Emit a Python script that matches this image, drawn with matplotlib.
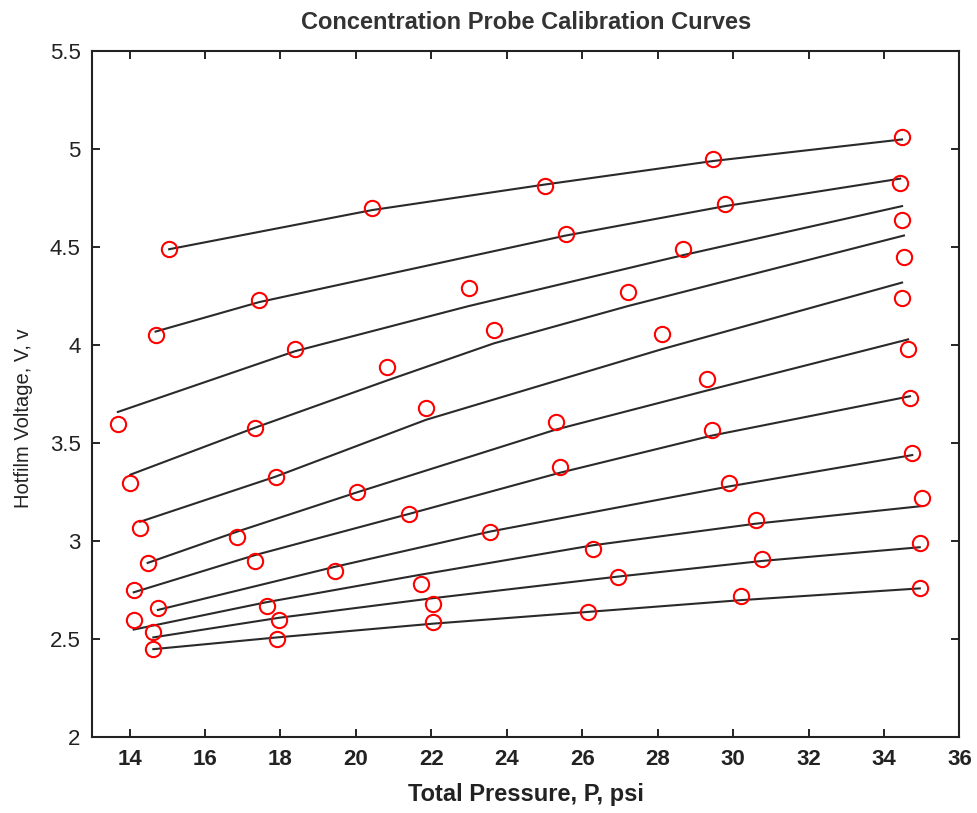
import matplotlib
matplotlib.use('Agg')
import matplotlib.pyplot as plt

#%% data: pressure (psi), measured voltage (circles), fitted voltage (lines)
p_curves = [
    [15.05, 20.44, 25.01, 29.47, 34.48],
    [14.69, 17.43, 25.57, 29.79, 34.43],
    [13.69, 18.39, 22.99, 28.68, 34.48],
    [14.02, 17.33, 20.82, 23.66, 27.21, 34.53],
    [14.28, 17.87, 21.86, 28.11, 34.48],
    [14.48, 16.86, 20.03, 25.30, 29.32, 34.64],
    [14.11, 17.33, 21.41, 25.41, 29.45, 34.69],
    [14.75, 19.44, 23.56, 29.89, 34.75],
    [14.11, 17.64, 21.72, 26.29, 30.60, 35.01],
    [14.63, 17.96, 22.04, 26.94, 30.77, 34.95],
    [14.63, 17.91, 22.04, 26.15, 30.20, 34.95],
]
v_meas = [
    [4.49, 4.70, 4.81, 4.95, 5.06],
    [4.05, 4.23, 4.57, 4.72, 4.83],
    [3.60, 3.98, 4.29, 4.49, 4.64],
    [3.30, 3.58, 3.89, 4.08, 4.27, 4.45],
    [3.07, 3.33, 3.68, 4.06, 4.24],
    [2.89, 3.02, 3.25, 3.61, 3.83, 3.98],
    [2.75, 2.90, 3.14, 3.38, 3.57, 3.73],
    [2.66, 2.85, 3.05, 3.30, 3.45],
    [2.60, 2.67, 2.78, 2.96, 3.11, 3.22],
    [2.54, 2.60, 2.68, 2.82, 2.91, 2.99],
    [2.45, 2.50, 2.59, 2.64, 2.72, 2.76],
]
v_fit = [
    [4.49, 4.69, 4.82, 4.94, 5.05],
    [4.07, 4.22, 4.56, 4.71, 4.85],
    [3.66, 3.97, 4.20, 4.46, 4.71],
    [3.34, 3.58, 3.82, 4.01, 4.20, 4.56],
    [3.10, 3.33, 3.62, 3.98, 4.32],
    [2.89, 3.05, 3.25, 3.57, 3.77, 4.03],
    [2.74, 2.93, 3.14, 3.35, 3.54, 3.74],
    [2.65, 2.87, 3.05, 3.28, 3.44],
    [2.55, 2.69, 2.83, 2.98, 3.09, 3.18],
    [2.51, 2.61, 2.71, 2.82, 2.90, 2.97],
    [2.45, 2.51, 2.58, 2.64, 2.70, 2.76],
]

x_ticks = [14, 16, 18, 20, 22, 24, 26, 28, 30, 32, 34, 36]
y_ticks = [2, 2.5, 3, 3.5, 4, 4.5, 5, 5.5]
y_ticklabels = ['2', '2.5', '3', '3.5', '4', '4.5', '5', '5.5']

bold_fam = ['Liberation Sans Narrow', 'Liberation Sans', 'DejaVu Sans']
reg_fam = ['Liberation Sans', 'DejaVu Sans']

#%% plot
fig = plt.figure(figsize=(9.77, 8.13), dpi=100)
ax = fig.add_axes([0.094, 0.093, 0.888, 0.844])

for p, v, vf in zip(p_curves, v_meas, v_fit):
    ax.plot(p, vf, '-', color='#2a2a2a', lw=1.5, zorder=2)
    ax.plot(p, v, 'o', mfc='none', mec='red', mew=1.5, ms=11, zorder=3)

ax.set_xlim(13, 36)
ax.set_ylim(2, 5.5)
ax.set_xticks(x_ticks)
ax.set_yticks(y_ticks)
ax.set_yticklabels(y_ticklabels, family=reg_fam, fontsize=16, color='#222222')
for lab in ax.get_xticklabels():
    lab.set_family(bold_fam)
    lab.set_fontweight('bold')
    lab.set_fontsize(16)
    lab.set_color('#222222')

ax.tick_params(direction='in', length=6, width=1.2, top=True, right=True, pad=8)
for s in ax.spines.values():
    s.set_linewidth(1.5)
    s.set_color('#222222')

ax.set_title('Concentration Probe Calibration Curves', family=bold_fam,
             fontweight='bold', fontsize=17, color='#333333', pad=16)
ax.set_xlabel('Total Pressure, P, psi', family=bold_fam, fontweight='bold',
              fontsize=17, color='#222222', labelpad=10)
ax.set_ylabel('Hotfilm Voltage, V, v', family=reg_fam, fontsize=14.5,
              color='#222222')
ax.yaxis.set_label_coords(-0.068, 0.465)

fig.savefig('out.png', dpi=100, facecolor='white')
